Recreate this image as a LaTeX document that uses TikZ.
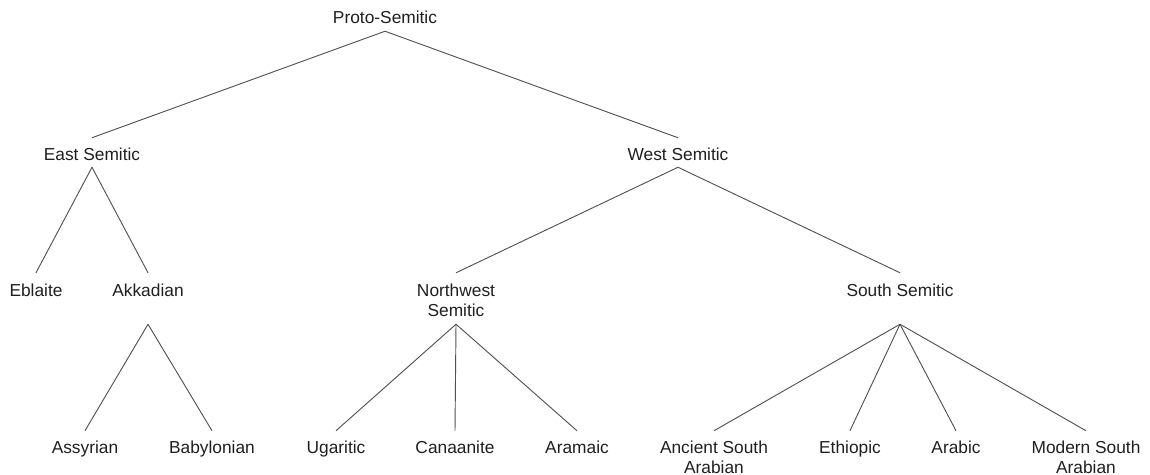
\documentclass[tikz,border=0pt]{standalone}
\usepackage{fontspec}
\setmainfont{Liberation Sans}
\newcommand{\twolines}[2]{\begin{tabular}[t]{@{}c@{}}#1\\#2\end{tabular}}
\begin{document}
\begin{tikzpicture}[x=0.75pt,y=-0.75pt,
  lang/.style={inner sep=0pt, anchor=base, font=\fontsize{13}{15}\selectfont, text=black!88},
  toplang/.style={lang, text height=10.5pt, text depth=5.6pt},
  midlang/.style={lang, text height=16.5pt, text depth=5.25pt},
  sublang/.style={lang, text height=17.6pt, text depth=20.6pt},
  leaflang/.style={lang, text height=16.5pt, text depth=18pt},
  edge/.style={draw=black!68, line width=0.7pt}]
\useasboundingbox (0,0) rectangle (1150,475);
% level 1
\node[toplang] (ps) at (385,23.5) {Proto-Semitic};
% level 2
\node[midlang] (es) at (92,160) {East Semitic};
\node[midlang] (ws) at (678,160) {West Semitic};
% level 3
\node[sublang] (eb) at (36,296.5) {Eblaite};
\node[sublang] (ak) at (148,296.5) {Akkadian};
\node[sublang] (nw) at (456,296.5) {\twolines{Northwest}{Semitic}};
\node[sublang] (ss) at (900,296.5) {South Semitic};
% leaves
\node[leaflang] (as) at (85,453) {Assyrian};
\node[leaflang] (ba) at (212,453) {Babylonian};
\node[leaflang] (ug) at (336,453) {Ugaritic};
\node[leaflang] (ca) at (455,453) {Canaanite};
\node[leaflang] (ar) at (577,453) {Aramaic};
\node[leaflang] (asa) at (714,453) {\twolines{Ancient South}{Arabian}};
\node[leaflang] (et) at (850,453) {Ethiopic};
\node[leaflang] (arb) at (956,453) {Arabic};
\node[leaflang] (msa) at (1086,453) {\twolines{Modern South}{Arabian}};
% connectors
\draw[edge] (ps.south) -- (es.north);
\draw[edge] (ps.south) -- (ws.north);
\draw[edge] (es.south) -- (eb.north);
\draw[edge] (es.south) -- (ak.north);
\draw[edge] (ws.south) -- (nw.north);
\draw[edge] (ws.south) -- (ss.north);
\draw[edge] (ak.south) -- (as.north);
\draw[edge] (ak.south) -- (ba.north);
\draw[edge] (nw.south) -- (ug.north);
\draw[edge] (nw.south) -- (ca.north);
\draw[edge] (nw.south) -- (ar.north);
\draw[edge] (ss.south) -- (asa.north);
\draw[edge] (ss.south) -- (et.north);
\draw[edge] (ss.south) -- (arb.north);
\draw[edge] (ss.south) -- (msa.north);
\end{tikzpicture}
\end{document}
